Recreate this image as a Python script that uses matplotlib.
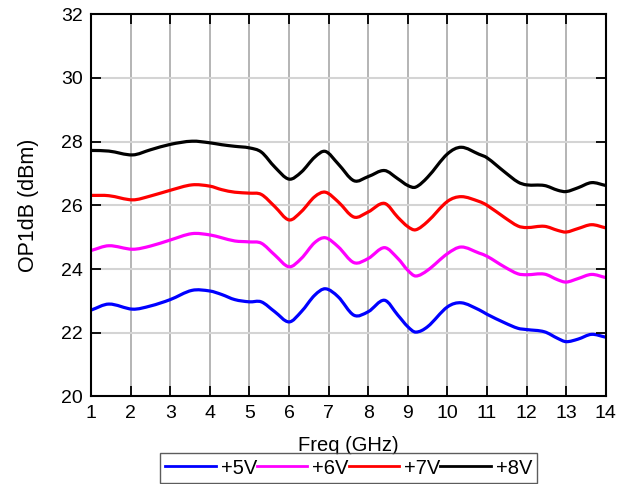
import matplotlib
matplotlib.use("Agg")
import matplotlib.pyplot as plt
from matplotlib.path import Path
from matplotlib.patches import PathPatch

plt.rcParams['font.family'] = ['Liberation Sans', 'DejaVu Sans']

freq = [1.0, 1.45, 2.05, 2.5, 3.0, 3.55, 4.0, 4.3, 4.63, 5.0, 5.3, 5.64, 6.0,
        6.31, 6.65, 6.92, 7.24, 7.64, 8.0, 8.41, 8.75, 9.0, 9.2, 9.5, 10.0,
        10.35, 10.8, 11.0, 11.45, 11.78, 12.0, 12.45, 12.79, 13.0, 13.3, 13.64, 14.0]

v5 = [22.71, 22.90, 22.74, 22.84, 23.04, 23.33, 23.31, 23.20, 23.04, 22.97, 22.97,
      22.66, 22.34, 22.66, 23.18, 23.38, 23.13, 22.55, 22.66, 23.02, 22.55, 22.19,
      22.02, 22.19, 22.81, 22.94, 22.72, 22.58, 22.31, 22.14, 22.10, 22.03, 21.82,
      21.72, 21.80, 21.95, 21.86]
v6 = [24.58, 24.73, 24.62, 24.72, 24.91, 25.11, 25.07, 24.98, 24.88, 24.85, 24.81,
      24.44, 24.07, 24.33, 24.83, 24.98, 24.70, 24.20, 24.33, 24.67, 24.33, 23.96,
      23.78, 23.96, 24.48, 24.69, 24.50, 24.40, 24.06, 23.85, 23.82, 23.84, 23.66,
      23.59, 23.70, 23.83, 23.73]
v7 = [26.31, 26.30, 26.17, 26.29, 26.47, 26.64, 26.60, 26.49, 26.41, 26.38, 26.34,
      25.96, 25.54, 25.80, 26.27, 26.41, 26.11, 25.63, 25.79, 26.06, 25.62, 25.33,
      25.23, 25.49, 26.12, 26.27, 26.12, 26.00, 25.61, 25.35, 25.30, 25.34, 25.21,
      25.16, 25.27, 25.39, 25.29]
v8 = [27.72, 27.70, 27.58, 27.74, 27.91, 28.01, 27.96, 27.90, 27.85, 27.80, 27.67,
      27.20, 26.82, 27.04, 27.51, 27.69, 27.30, 26.77, 26.90, 27.09, 26.83, 26.62,
      26.57, 26.88, 27.61, 27.82, 27.60, 27.49, 27.04, 26.73, 26.64, 26.62, 26.47,
      26.43, 26.55, 26.71, 26.62]

labels = ["+5V", "+6V", "+7V", "+8V"]
colors = ["#0000ff", "#ff00ff", "#ff0000", "#000000"]
xticks = list(range(1, 15))
yticks = [20, 22, 24, 26, 28, 30, 32]


def smooth_path(x, y):
    # spline-style connection: cubic Bezier segments through the data points
    n = len(x)
    m = []
    for i in range(n):
        a, b = max(i - 1, 0), min(i + 1, n - 1)
        m.append((y[b] - y[a]) / (x[b] - x[a]))
    verts = [(x[0], y[0])]
    codes = [Path.MOVETO]
    for i in range(n - 1):
        h = x[i + 1] - x[i]
        verts += [(x[i] + h / 3, y[i] + m[i] * h / 3),
                  (x[i + 1] - h / 3, y[i + 1] - m[i + 1] * h / 3),
                  (x[i + 1], y[i + 1])]
        codes += [Path.CURVE4] * 3
    return Path(verts, codes)


fig = plt.figure(figsize=(6.33, 4.84), dpi=100)
ax = fig.add_axes([0.1438, 0.1808, 0.8132, 0.7902])

for y, lab, c in zip([v5, v6, v7, v8], labels, colors):
    ax.add_patch(PathPatch(smooth_path(freq, y), fill=False, edgecolor=c,
                           lw=2.3, joinstyle='round', capstyle='butt'))
    ax.plot([], [], color=c, lw=2.0, label=lab)

ax.set_xlim(1, 14)
ax.set_ylim(20, 32)
ax.set_xticks(xticks)
ax.set_yticks(yticks)

for x in xticks[1:-1]:
    ax.axvline(x, color="#a8a8a8", lw=1.2, zorder=0)
for y in yticks[1:-1]:
    ax.axhline(y, color="#d4d4d4", lw=1.5, zorder=0)

ax.tick_params(direction='in', length=7, width=1.3, labelsize=14,
               top=True, right=True, pad=6)
for s in ax.spines.values():
    s.set_linewidth(1.5)

ax.set_xlabel("Freq (GHz)", fontsize=14.5, labelpad=10)
ax.set_ylabel("OP1dB (dBm)", fontsize=15.5, labelpad=16)

leg = fig.legend(loc='lower center', bbox_to_anchor=(0.551, 0.003), ncol=4,
                 fontsize=14.5, frameon=True, fancybox=False, edgecolor='#333333',
                 handlelength=2.5, handletextpad=0.25, columnspacing=0.0,
                 borderpad=0.25, borderaxespad=0.0)
leg.get_frame().set_linewidth(1.0)

fig.savefig("out.png", dpi=100)
